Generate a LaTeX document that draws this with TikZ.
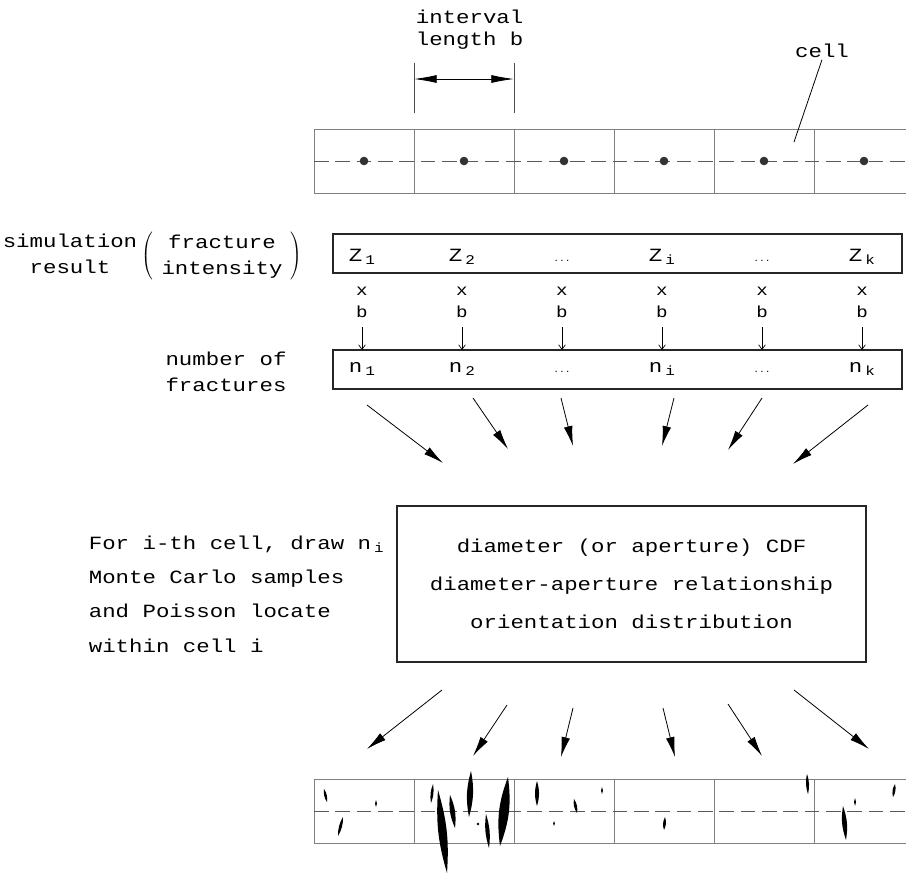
\documentclass[tikz,border=0pt]{standalone}
\usepackage{fontspec}
\setmainfont{Liberation Mono}[FakeStretch=1.2]
\usetikzlibrary{arrows.meta}

\tikzset{every picture/.style={line width=0.75pt}}

% lowered index as in Z_1, n_i
\newcommand{\lowsub}[1]{\,\raisebox{-0.35ex}{\fontsize{10}{10}\selectfont #1}}
% small dots between the columns
\newcommand{\rowdots}{{\fontsize{6}{6}\selectfont ...}}
% one fracture, drawn as a thin lens between two end points
\newcommand{\crack}[3]{\fill[crackfill] (#1) to[bend left=#3] (#2) to[bend left=#3] (#1);}

\begin{document}
\begin{tikzpicture}[x=0.75pt,y=0.75pt,yscale=-1,
  txt/.style={font=\fontsize{14}{19.5}\selectfont, inner sep=1pt},
  factor/.style={font=\fontsize{12}{13}\selectfont, inner sep=0.5pt},
  gridline/.style={draw=black!50},
  axisline/.style={draw=black!65, dash pattern=on 11pt off 5pt},
  rowbox/.style={draw=black!85, line width=1pt},
  flow/.style={-{Latex[length=15pt,width=6.5pt]}, line width=0.6pt},
  dimarrow/.style={{Latex[length=17pt,width=6pt]}-{Latex[length=17pt,width=6pt]}, line width=0.6pt},
  timesb/.style={-{Straight Barb[length=3.5pt,width=5pt]}, line width=0.5pt},
  crackfill/.style={fill=black}]
\useasboundingbox (0,0) rectangle (906,875);

%Shape: top strip of cells
\draw[gridline] (906,129) -- (314,129) -- (314,193) -- (906,193);
\foreach \i in {1,...,5} \draw[gridline] (314+\i*100,129) -- (314+\i*100,193);
\draw[axisline] (314,161) -- (906,161);
\foreach \i in {0,...,5} \fill[black!80] (364+\i*100,161) circle (4.3);

%Straight Lines: interval length
\draw[black!70] (414,63) -- (414,113);
\draw[black!70] (514,63) -- (514,113);
\coordinate (dimL) at (414,79);
\coordinate (dimR) at (514,79);
\draw[dimarrow] (dimL) -- (dimR);
% Text Node
\node[txt, anchor=west, align=left, font=\fontsize{14}{16.5}\selectfont] (intlab) at (414,30) {interval\\length b};

% Text Node
\node[txt] (celllab) at (822,51) {cell};
\coordinate (cellpt) at (794,142);
\draw[line width=0.6pt] (celllab.south) -- (cellpt);

%Shape: intensity row
\draw[rowbox] (333,234) coordinate (zrowNW) rectangle (902,273) coordinate (zrowSE);
\foreach \i/\lab in {1/Z\lowsub{1}, 2/Z\lowsub{2}, 3/\rowdots, 4/Z\lowsub{i}, 5/\rowdots, 6/Z\lowsub{k}}
  \node[txt, anchor=base] (z\i) at (262+\i*100,261) {\lab};

%Shape: count row
\draw[rowbox] (333,350) coordinate (nrowNW) rectangle (902,389) coordinate (nrowSE);
\foreach \i/\lab in {1/n\lowsub{1}, 2/n\lowsub{2}, 3/\rowdots, 4/n\lowsub{i}, 5/\rowdots, 6/n\lowsub{k}}
  \node[txt, anchor=base] (n\i) at (262+\i*100,372) {\lab};

% times b
\foreach \i in {1,...,6} {
  \node[factor] (x\i) at (262+\i*100,291) {x};
  \node[factor] (b\i) at (262+\i*100,312) {b};
  \draw[timesb] ([yshift=6pt]b\i.south) -- (b\i.south |- nrowNW);
}

% Text Node
\node[txt, align=center] (simlab) at (70,254) {simulation\\result};
% Text Node
\node[txt] (intenslab) at (222,256) {$\left(\mbox{\begin{tabular}{c}fracture\\intensity\end{tabular}}\right)$};
% Text Node
\node[txt, align=center] (numlab) at (226,372) {number of\\fractures};

%Straight Lines: counts into the sampler
\foreach \i/\xa/\ya/\xb/\yb in {1/367/405/443/463, 2/473/398/508/449, 3/561/398/573/446,
                                4/674/398/662/446, 5/762/398/728/450, 6/868/405/793/464} {
  \coordinate (upS\i) at (\xa,\ya);
  \coordinate (upE\i) at (\xb,\yb);
  \draw[flow] (upS\i) -- (upE\i);
}

%Shape: sampler box
\node[txt, draw=black!85, line width=1pt, minimum width=351.75pt, minimum height=117pt,
      align=center, font=\fontsize{14}{28.5}\selectfont] (sampler) at (631.5,584)
  {diameter (or aperture) CDF\\diameter-aperture relationship\\orientation distribution};

% Text Node
\node[txt, anchor=west, align=left, font=\fontsize{14}{25.7}\selectfont] (steplab) at (87,594)
  {For i-th cell, draw n\lowsub{i}\\Monte Carlo samples\\and Poisson locate\\within cell i};

%Straight Lines: samples out to the cells
\foreach \i/\xa/\ya/\xb/\yb in {1/442/690/367/749, 2/507/705/473/756, 3/573/708/561/757,
                                4/663/708/675/757, 5/728/704/762/756, 6/794/690/869/749} {
  \coordinate (dnS\i) at (\xa,\ya);
  \coordinate (dnE\i) at (\xb,\yb);
  \draw[flow] (dnS\i) -- (dnE\i);
}

%Shape: bottom strip of cells
\draw[gridline] (906,779) -- (314,779) -- (314,843) -- (906,843);
\foreach \i in {1,...,5} \draw[gridline] (314+\i*100,779) -- (314+\i*100,843);
\draw[axisline] (314,811) -- (906,811);

% fractures, cell by cell
\crack{324,789}{327,802}{20}
\crack{376,800}{376,807}{28}
\crack{343,817}{338,836}{15}
\crack{433,784}{431,803}{15}
\crack{438,790}{447,873}{10}
\crack{450,795}{455,828}{15}
\crack{471,771}{469,817}{13}
\fill (478,824) circle (1.3);
\crack{486,814}{489,848}{12}
\crack{508,777}{500,846}{14}
\crack{537,781}{537,806}{16}
\crack{574,799}{577,813}{21}
\crack{554,821}{554,826}{35}
\crack{602,787}{602,794}{28}
\crack{665,817}{664,830}{22}
\crack{807,774}{808,794}{15}
\crack{843,806}{846,840}{14}
\crack{855,798}{855,806}{25}
\crack{895,784}{893,797}{22}

\end{tikzpicture}
\end{document}
